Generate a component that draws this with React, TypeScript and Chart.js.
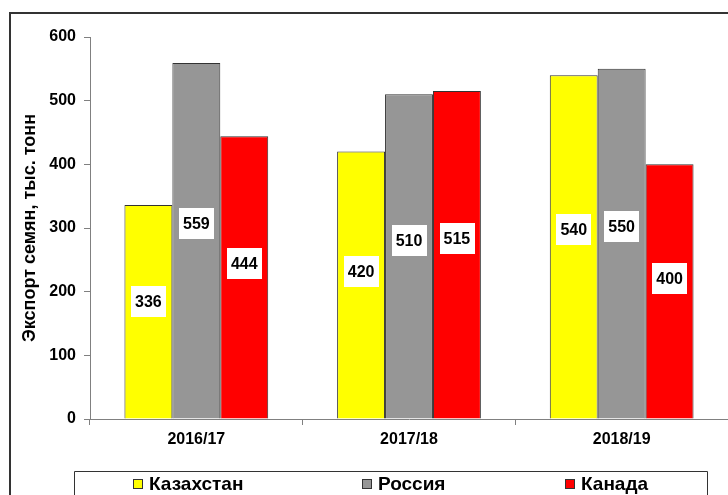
import React, { useEffect, useRef } from "react";
import { Chart, registerables } from "chart.js";

Chart.register(...registerables);

const categories = ["2016/17", "2017/18", "2018/19"];
const seriesNames = ["Казахстан", "Россия", "Канада"];
const kazakhstan = [336, 420, 540];
const russia = [559, 510, 550];
const canada = [444, 515, 400];
const seriesColors = ["#FFFF00", "#969696", "#FF0000"];
const yMin = 0;
const yMax = 600;
const yStep = 100;
const yTitle = "Экспорт семян, тыс. тонн";

const FONT = "'Liberation Sans', Arial, sans-serif";

const framePlugin = {
  id: "frame",
  beforeDraw(chart: any) {
    const ctx = chart.ctx;
    ctx.save();
    ctx.fillStyle = "#ffffff";
    ctx.fillRect(0, 0, chart.width, chart.height);
    ctx.strokeStyle = "#333333";
    ctx.lineWidth = 2;
    ctx.strokeRect(10, 13, chart.width + 20, chart.height + 20);
    ctx.restore();
  },
};

const valueLabelPlugin = {
  id: "valueLabels",
  afterDatasetsDraw(chart: any) {
    const ctx = chart.ctx;
    const yScale = chart.scales.y;
    ctx.save();
    ctx.font = `bold 16px ${FONT}`;
    ctx.textAlign = "center";
    ctx.textBaseline = "middle";
    chart.data.datasets.forEach((ds: any, di: number) => {
      const meta = chart.getDatasetMeta(di);
      meta.data.forEach((el: any, i: number) => {
        const v = ds.data[i] as number;
        const y = yScale.getPixelForValue(v * 0.55);
        const text = String(v);
        const w = ctx.measureText(text).width + 8;
        const h = 31;
        ctx.fillStyle = "#ffffff";
        ctx.fillRect(Math.round(el.x - w / 2), Math.round(y - h / 2), Math.round(w), h);
        ctx.fillStyle = "#000000";
        ctx.fillText(text, el.x, y + 1);
      });
    });
    ctx.restore();
  },
};

const legendPlugin = {
  id: "customLegend",
  afterDraw(chart: any) {
    const ctx = chart.ctx;
    const boxLeft = 74;
    const boxRight = 707;
    const boxTop = 471;
    ctx.save();
    ctx.strokeStyle = "#333333";
    ctx.lineWidth = 1;
    ctx.beginPath();
    ctx.moveTo(boxLeft + 0.5, chart.height + 5);
    ctx.lineTo(boxLeft + 0.5, boxTop + 0.5);
    ctx.lineTo(boxRight + 0.5, boxTop + 0.5);
    ctx.lineTo(boxRight + 0.5, chart.height + 5);
    ctx.stroke();

    ctx.font = `bold 19px ${FONT}`;
    ctx.textBaseline = "middle";
    ctx.textAlign = "left";
    const sq = 10;
    const gapAfterSq = 6;
    const gap = 119;
    const widths = seriesNames.map((n) => sq + gapAfterSq + ctx.measureText(n).width);
    const total = widths.reduce((a, b) => a + b, 0) + gap * (seriesNames.length - 1);
    let x = (boxLeft + boxRight) / 2 - total / 2;
    const cy = 484;
    seriesNames.forEach((n, i) => {
      const sx = Math.round(x);
      ctx.fillStyle = seriesColors[i];
      ctx.fillRect(sx, cy - 5, sq, sq);
      ctx.strokeStyle = "#333333";
      ctx.strokeRect(sx + 0.5, cy - 5 + 0.5, sq - 1, sq - 1);
      ctx.fillStyle = "#000000";
      ctx.fillText(n, sx + sq + gapAfterSq, cy + 1);
      x += widths[i] + gap;
    });
    ctx.restore();
  },
};

export default function App() {
  const ref = useRef<HTMLCanvasElement | null>(null);

  useEffect(() => {
    if (!ref.current) return;
    const seriesData = [kazakhstan, russia, canada];
    const chart = new Chart(ref.current, {
      type: "bar",
      data: {
        labels: categories,
        datasets: seriesNames.map((name, i) => ({
          label: name,
          data: seriesData[i],
          backgroundColor: seriesColors[i],
          borderColor: "#333333",
          borderWidth: 1,
          categoryPercentage: 0.676,
          barPercentage: 1.0,
        })),
      },
      options: {
        animation: false,
        responsive: false,
        devicePixelRatio: 1,
        layout: { padding: { top: 37, right: 0, bottom: 0, left: 0 } },
        plugins: {
          legend: { display: false },
          tooltip: { enabled: false },
        },
        scales: {
          x: {
            ticks: {
              color: "#000000",
              font: { family: FONT, size: 16, weight: "bold" },
              padding: 5,
            },
            grid: {
              drawOnChartArea: false,
              drawTicks: true,
              tickLength: 6,
              color: "#808080",
              offset: true,
            },
            border: { color: "#808080", width: 1 },
            afterFit: (s: any) => {
              s.height = 76;
            },
          },
          y: {
            min: yMin,
            max: yMax,
            ticks: {
              stepSize: yStep,
              color: "#000000",
              font: { family: FONT, size: 16, weight: "bold" },
              padding: 8,
            },
            grid: {
              drawOnChartArea: false,
              drawTicks: true,
              tickLength: 6,
              color: "#808080",
            },
            border: { color: "#808080", width: 1 },
            title: {
              display: true,
              text: yTitle,
              color: "#000000",
              font: { family: FONT, size: 18, weight: "bold" },
              padding: { top: 19, bottom: 0 },
            },
            afterFit: (s: any) => {
              s.width = 90;
            },
          },
        },
      },
      plugins: [framePlugin, valueLabelPlugin, legendPlugin],
    } as any);
    return () => chart.destroy();
  }, []);

  return (
    <div style={{ position: "fixed", left: 0, top: 0, width: 728, height: 495 }}>
      <canvas ref={ref} width={728} height={495} style={{ display: "block" }} />
    </div>
  );
}
